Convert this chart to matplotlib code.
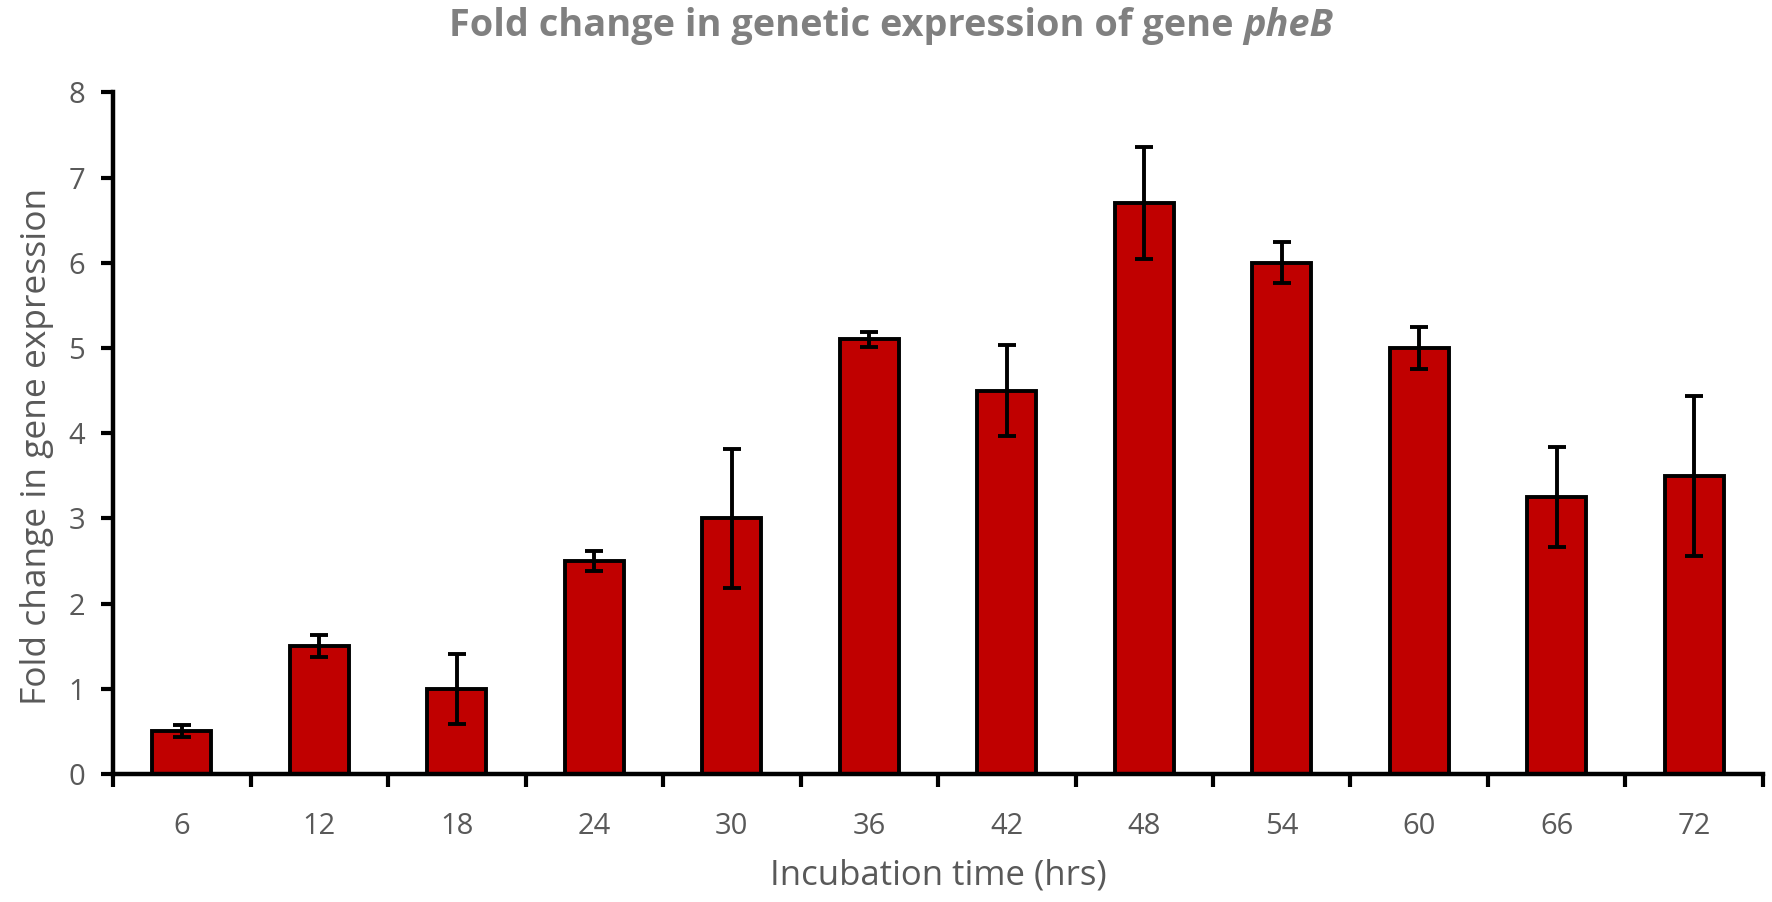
import numpy as np
import matplotlib.pyplot as plt

# Data
hours = ["6", "12", "18", "24", "30", "36", "42", "48", "54", "60", "66", "72"]
fold_change = [0.5, 1.5, 1.0, 2.5, 3.0, 5.1, 4.5, 6.7, 6.0, 5.0, 3.25, 3.5]
std_err = [0.07, 0.13, 0.41, 0.12, 0.82, 0.09, 0.53, 0.66, 0.24, 0.25, 0.59, 0.94]

plt.rcParams['font.family'] = ['Open Sans', 'DejaVu Sans']

text_grey = "#595959"
title_grey = "#808080"
bar_red = "#C00000"

fig = plt.figure(figsize=(17.72, 9.02), dpi=100)
ax = fig.add_axes([0.0638, 0.1419, 0.9311, 0.7557])

x = np.arange(len(hours))
ax.bar(x, fold_change, width=0.43, color=bar_red, edgecolor="black", linewidth=2.8,
       yerr=std_err, capsize=6.5,
       error_kw=dict(ecolor="black", elinewidth=2.8, capthick=2.8), zorder=2)

ax.set_xlim(-0.5, len(hours) - 0.5)
ax.set_ylim(0, 8)
ax.set_yticks(range(0, 9))

# category labels at centres, tick marks at the category boundaries
ax.set_xticks(x)
ax.set_xticklabels(hours)
ax.set_xticks(np.arange(-0.5, len(hours), 1.0), minor=True)
ax.tick_params(axis="x", which="major", length=0, pad=27, labelsize=21, labelcolor=text_grey)
ax.tick_params(axis="x", which="minor", length=9, width=3, direction="out", color="black")
ax.tick_params(axis="y", length=9, width=3, direction="out", pad=11, labelsize=21,
               labelcolor=text_grey)

for side in ["top", "right"]:
    ax.spines[side].set_visible(False)
for side in ["left", "bottom"]:
    ax.spines[side].set_linewidth(3.2)

ax.set_xlabel("Incubation time (hrs)", fontsize=25, color=text_grey, labelpad=13)
ax.set_ylabel("Fold change in gene expression", fontsize=25.5, color=text_grey)
ax.yaxis.set_label_coords(-0.036, 0.48)

# title: bold upright part followed by bold italic gene name, centred on the figure
renderer = fig.canvas.get_renderer()
t1 = fig.text(0, 0.971, "Fold change in genetic expression of gene ", ha="left", va="center",
              fontsize=27.3, fontweight="bold", color=title_grey)
t2 = fig.text(0, 0.971, "pheB", ha="left", va="center", fontsize=27.3, fontweight="bold",
              fontstyle="italic", color=title_grey)
w1 = t1.get_window_extent(renderer).width / fig.bbox.width
w2 = t2.get_window_extent(renderer).width / fig.bbox.width
start = 0.503 - (w1 + w2) / 2
t1.set_x(start)
t2.set_x(start + w1)

fig.savefig("out.png", dpi=100)
